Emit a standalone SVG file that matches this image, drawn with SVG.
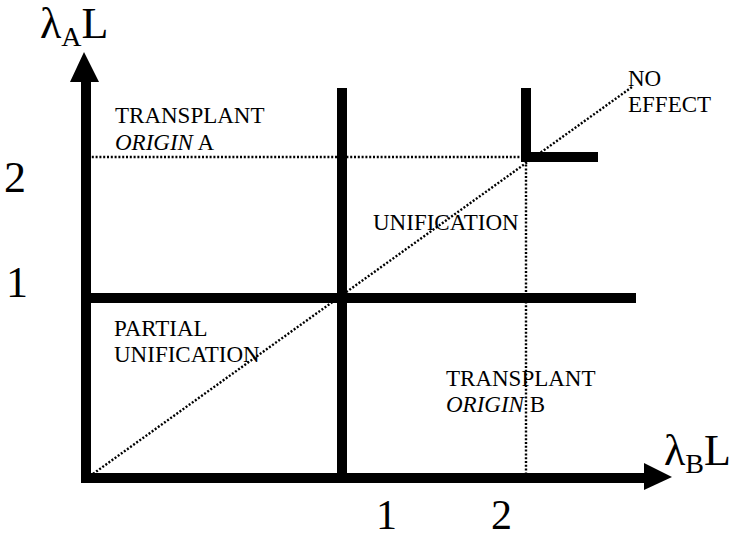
<svg xmlns="http://www.w3.org/2000/svg" width="739" height="539" viewBox="0 0 739 539">
<style>
.t{font-family:"Liberation Serif","Times New Roman",serif;fill:#000}
.lab{font-size:23px}
.big{font-size:44px}
.sub{font-size:28px}
.thick{stroke:#000;stroke-width:10;fill:none}
.dot{stroke:#000;stroke-width:2.4;stroke-dasharray:2 1.8;fill:none}
</style>
<rect width="739" height="539" fill="#fff"/>
<g id="connectors">
<line class="dot" x1="88" y1="157" x2="526" y2="157"/>
<line class="dot" x1="526" y1="157" x2="526" y2="478"/>
<line class="dot" x1="90" y1="476" x2="632" y2="87"/>
<line class="thick" x1="86" y1="483" x2="86" y2="80"/>
<polygon points="70,82 84,52 99,82" fill="#000"/>
<line class="thick" x1="81" y1="478" x2="646" y2="478"/>
<polygon points="644,463 672,477 644,490" fill="#000"/>
<line class="thick" x1="86" y1="298" x2="636" y2="298"/>
<line class="thick" x1="342" y1="88" x2="342" y2="478"/>
<polyline class="thick" points="526,88 526,157 598,157"/>
</g>
<g id="axis-y-label"><text class="t big" x="40" y="38">λ<tspan class="sub" dy="8">A</tspan><tspan dy="-8">L</tspan></text></g>
<g id="axis-x-label"><text class="t big" x="664" y="465">λ<tspan class="sub" dy="8">B</tspan><tspan dy="-8">L</tspan></text></g>
<g id="ticks">
<text class="t big" x="4" y="192">2</text>
<text class="t big" x="6" y="297">1</text>
<text class="t" font-size="42" x="376" y="529">1</text>
<text class="t" font-size="42" x="491" y="529">2</text>
</g>
<g id="transplant-a"><text class="t lab" x="115" y="123">TRANSPLANT</text><text class="t lab" x="115" y="150"><tspan font-style="italic">ORIGIN</tspan> A</text></g>
<g id="unification"><text class="t lab" x="373" y="230">UNIFICATION</text></g>
<g id="no-effect"><text class="t lab" x="628" y="86">NO</text><text class="t lab" x="628" y="112">EFFECT</text></g>
<g id="partial"><text class="t lab" x="114" y="336">PARTIAL</text><text class="t lab" x="114" y="362">UNIFICATION</text></g>
<g id="transplant-b"><text class="t lab" x="446" y="386">TRANSPLANT</text><text class="t lab" x="446" y="412"><tspan font-style="italic">ORIGIN</tspan> B</text></g>
</svg>
